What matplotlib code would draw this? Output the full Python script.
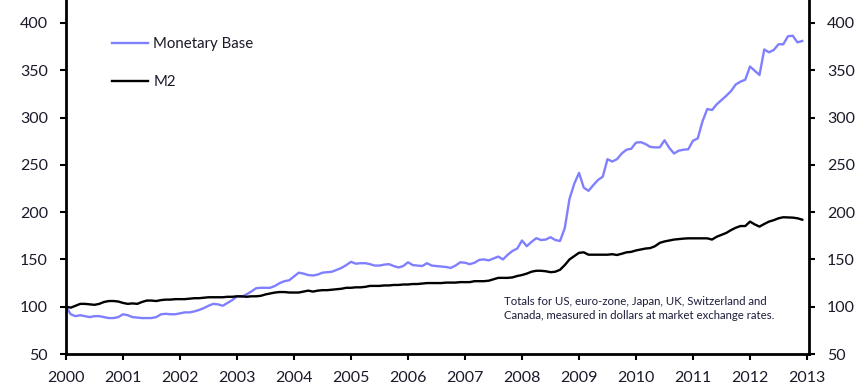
import numpy as np
import matplotlib
matplotlib.use("Agg")
import matplotlib.pyplot as plt

plt.rcParams['font.family'] = ['Lato', 'DejaVu Sans']

# Monthly data, Jan 2000 - Dec 2012 (index, Jan 2000 = 100)
monetary_base = [
    100, 92, 90, 91, 90, 89, 90, 90, 89, 88, 88, 89,
    92, 91, 89, 88.5, 88, 88, 88, 89, 92, 92.5, 92, 92,
    93, 94, 94, 95, 96.5, 98.5, 101, 103, 102.5, 101, 104, 107,
    111, 110.5, 113, 116, 119.5, 120, 120, 120, 122, 125, 127, 128,
    132, 136, 135, 133.5, 133, 134, 136, 136.5, 137, 139, 141, 144,
    147.5, 145.5, 146, 146, 145, 143.5, 143.5, 144.5, 145, 143, 141.5, 143,
    147, 144, 143.5, 143, 146, 143.5, 143, 142.5, 142, 141, 143.5, 147,
    146.5, 145, 146.5, 149.5, 150, 149, 151, 153, 150, 155, 159, 161.5,
    170, 164, 168.5, 172.5, 170.5, 171, 173.5, 170.5, 169.5, 183, 214, 230,
    241.5, 226, 222.5, 228.5, 234, 237.5, 256, 253.5, 256, 262, 266, 267,
    273.5, 274, 272, 269, 268.5, 268.5, 276, 268, 262, 265, 266, 266.5,
    275.5, 278, 296, 309, 308, 314, 318.5, 323, 328, 335, 338, 340,
    354, 349.5, 345, 372, 369, 371.5, 377.5, 377.5, 386, 386.5, 379.5, 381,
]
m2 = [
    100, 99, 101, 103, 103, 102.5, 102, 103, 105, 106, 106, 105.5,
    104, 103, 103.5, 103, 105, 106.5, 106.5, 106, 107, 107.5, 107.5, 108,
    108, 108, 108.5, 109, 109, 109.5, 110, 110, 110, 110, 110.5, 110.5,
    111, 111, 110.5, 111, 111, 111.5, 113, 114, 115, 115.5, 115.5, 115,
    115, 115, 116, 117, 116, 117, 117.5, 117.5, 118, 118.5, 119, 120,
    120, 120.5, 120.5, 121, 122, 122, 122, 122.5, 122.5, 123, 123, 123.5,
    123.5, 124, 124, 124.5, 125, 125, 125, 125, 125.5, 125.5, 125.5, 126,
    126, 126, 127, 127, 127, 127.5, 129, 130.5, 130.5, 130.5, 131, 132.5,
    133.5, 135, 137, 138, 138, 137.5, 136.5, 137, 139, 144, 150, 153.5,
    157, 157.5, 155, 155, 155, 155, 155, 155.5, 154.7, 156, 157.5, 158,
    159.5, 160.5, 161.5, 162, 164, 167.5, 169, 170, 171, 171.5, 172, 172.3,
    172.3, 172.3, 172.3, 172.3, 171, 174, 176, 178, 181, 183.5, 185.3, 185.3,
    190, 187, 184.7, 187.5, 190, 191.5, 193.5, 194.6, 194.4, 194.2, 193.5, 192,
]
dates = 2000 + np.arange(len(m2)) / 12.0
year_ticks = list(range(2000, 2014))
y_ticks = [50, 100, 150, 200, 250, 300, 350, 400]
note = ("Totals for US, euro-zone, Japan, UK, Switzerland and\n"
        "Canada, measured in dollars at market exchange rates.")

fig = plt.figure(figsize=(8.61, 3.88), dpi=100)
ax = fig.add_axes([66 / 861, 34 / 388, (809 - 66) / 861, (354 + 24.3) / 388])

ax.plot(dates, monetary_base, color='#8080ff', lw=1.7, label='Monetary Base')
ax.plot(dates, m2, color='black', lw=1.7, label='M2')

ax.set_xlim(2000, 2013.035)
ax.set_ylim(50, 450)
ax.set_xticks(year_ticks)
ax.set_yticks(y_ticks)

ax.spines['top'].set_visible(False)
for s in ['left', 'right', 'bottom']:
    ax.spines[s].set_linewidth(2)
ax.tick_params(axis='both', direction='out', length=4, width=1.5,
               labelsize=11.5, colors='black', labelcolor='#1a1a2a')
ax.tick_params(axis='y', right=True, labelright=True, pad=9)
ax.tick_params(axis='x', pad=8)

leg = ax.legend(frameon=False, loc='upper left', fontsize=10.8,
                bbox_to_anchor=(112 / 861, 1 - 37 / 388),
                bbox_transform=fig.transFigure, borderpad=0,
                borderaxespad=0, handlelength=2.4, handletextpad=0.35,
                labelspacing=1.6)
for t in leg.get_texts():
    t.set_color('#1a1a2a')

ax.text(504 / 861, 1 - 296 / 388, note, transform=fig.transFigure,
        fontsize=8.2, color='#1c1c3a', va='top', ha='left', linespacing=1.35)

fig.savefig('out.png', dpi=100)
